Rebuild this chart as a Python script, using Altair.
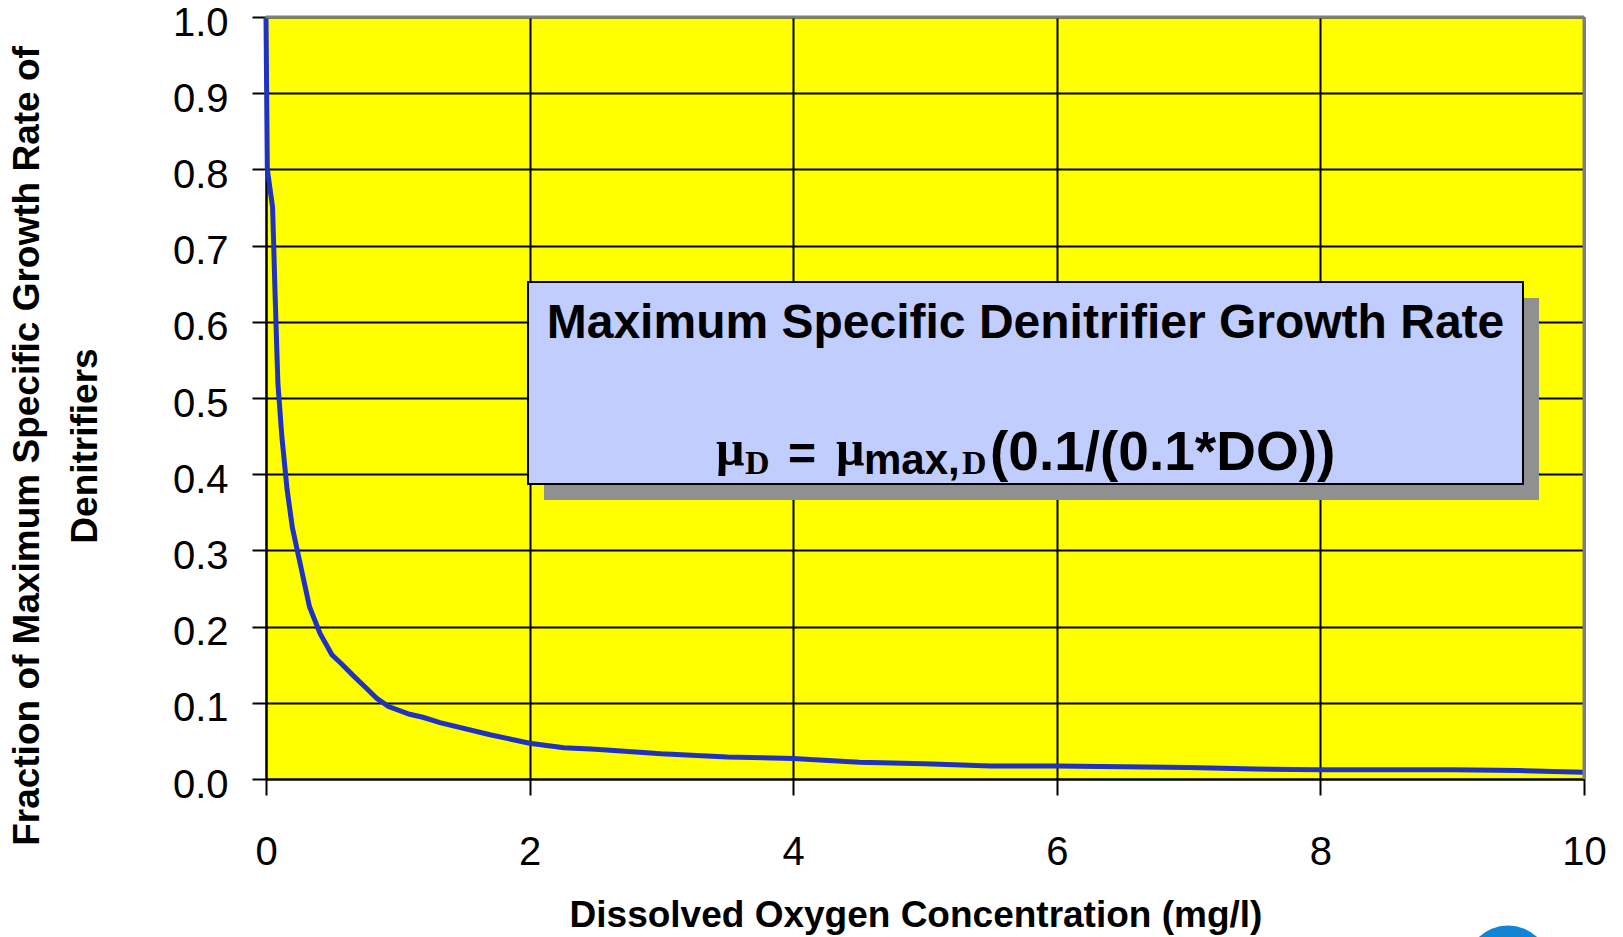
import altair as alt
import pandas as pd

# Dissolved oxygen (mg/l) and fraction of the maximum denitrifier growth rate
do_mg_l = [0, 0.01, 0.05, 0.07, 0.09, 0.12, 0.16, 0.2, 0.25, 0.33, 0.41, 0.5,
           0.58, 0.66, 0.75, 0.84, 0.93, 1.09, 1.19, 1.32, 1.7, 2.0, 2.26, 2.5,
           3.0, 3.5, 4.0, 4.5, 5.0, 5.5, 6.0, 6.5, 7.0, 7.5, 8.0, 8.5, 9.0,
           9.5, 10.0]
fraction = [1.0, 0.80, 0.75, 0.63, 0.52, 0.45, 0.38, 0.33, 0.29, 0.226, 0.191,
            0.163, 0.150, 0.136, 0.121, 0.106, 0.095, 0.085, 0.081, 0.074,
            0.058, 0.047, 0.041, 0.039, 0.033, 0.029, 0.027, 0.022, 0.020,
            0.017, 0.017, 0.016, 0.015, 0.013, 0.012, 0.012, 0.012, 0.011,
            0.009]

x_ticks = [0, 2, 4, 6, 8, 10]
y_ticks = [0.0, 0.1, 0.2, 0.3, 0.4, 0.5, 0.6, 0.7, 0.8, 0.9, 1.0]

x_title = "Dissolved Oxygen Concentration (mg/l)"
y_title = ["Fraction of Maximum Specific Growth Rate of", "Denitrifiers"]
box_title = "Maximum Specific Denitrifier Growth Rate"

W, H = 1318, 762          # plot area
LEFT, TOP = 266, 17       # plot origin on the page

SANS = "Liberation Sans"
SERIF = "Liberation Serif"

df = pd.DataFrame({"DO": do_mg_l, "frac": fraction})
one = alt.InlineData(values=[{"k": 0}])


def px(v):
    return alt.value(v - LEFT)


def py(v):
    return alt.value(v - TOP)


curve = alt.Chart(df).mark_line(color="#1f32c0", strokeWidth=5).encode(
    x=alt.X("DO:Q",
            scale=alt.Scale(domain=[0, 10], nice=False),
            axis=alt.Axis(values=x_ticks, format="d", title=None,
                          labelFontSize=40, labelFont=SANS, labelColor="black",
                          labelBaseline="alphabetic", labelPadding=69,
                          labelFlush=False, tickSize=16, tickWidth=2,
                          tickColor="black", domainColor="black",
                          domainWidth=2, gridColor="black", gridWidth=2)),
    y=alt.Y("frac:Q",
            scale=alt.Scale(domain=[0, 1], nice=False),
            axis=alt.Axis(values=y_ticks, format=".1f", title=None,
                          labelFontSize=40, labelFont=SANS, labelColor="black",
                          labelBaseline="middle", labelOffset=6,
                          labelPadding=24, tickSize=14, tickWidth=2,
                          tickColor="black", domainColor="black",
                          domainWidth=2, gridColor="black", gridWidth=2)),
)

# gray plot-area frame on the top and right sides
frame_top = alt.Chart(one).mark_rule(color="#7f7f7f", strokeWidth=3).encode(
    x=alt.value(0), x2=alt.value(W), y=alt.value(0))
frame_right = alt.Chart(one).mark_rule(color="#7f7f7f", strokeWidth=3).encode(
    x=alt.value(W), y=alt.value(0), y2=alt.value(H))

# equation box with drop shadow
shadow = alt.Chart(one).mark_rect(fill="#909090").encode(
    x=px(544), x2=px(1539), y=py(298), y2=py(500))
box = alt.Chart(one).mark_rect(fill="#c1cdfd", stroke="black",
                               strokeWidth=2).encode(
    x=px(528), x2=px(1523), y=py(282), y2=py(484))


def label(text, x, y, size, font=SANS, align="left", baseline="alphabetic",
          angle=0):
    return alt.Chart(one).mark_text(
        text=text, font=font, fontSize=size, fontWeight="bold", color="black",
        align=align, baseline=baseline, angle=angle).encode(x=px(x), y=py(y))


box_lines = [
    label(box_title, 1025.5, 338, 48, align="center"),
    label("\u03bc", 716, 465, 50, font=SERIF),
    label("D", 745, 474, 34, font=SERIF),
    label("=", 802, 470, 48, align="center"),
    label("\u03bc", 836, 465, 50, font=SERIF),
    label("max,", 864, 474, 42),
    label("D", 962, 474, 34, font=SERIF),
    label("(0.1/(0.1*DO))", 990, 470, 55),
]

titles = [
    label(x_title, 916, 927, 37, align="center"),
    label(y_title[0], 28, 446, 37, align="center", baseline="middle",
          angle=270),
    label(y_title[1], 86, 446, 37, align="center", baseline="middle",
          angle=270),
]

logo = alt.Chart(one).mark_point(filled=True, shape="circle", opacity=1,
                                 color="#1185d3", size=7238).encode(
    x=px(1508), y=py(968))

chart = alt.layer(
    curve, frame_top, frame_right, shadow, box, *box_lines, *titles, logo
).properties(
    width=W, height=H,
    autosize=alt.AutoSizeParams(type="none"),
    padding={"left": LEFT, "top": TOP, "right": 1623 - LEFT - W,
             "bottom": 937 - TOP - H},
    background="white",
).configure_view(fill="#ffff00", stroke=None)

chart.save("out.html", embed_options={"renderer": "svg", "actions": False})
